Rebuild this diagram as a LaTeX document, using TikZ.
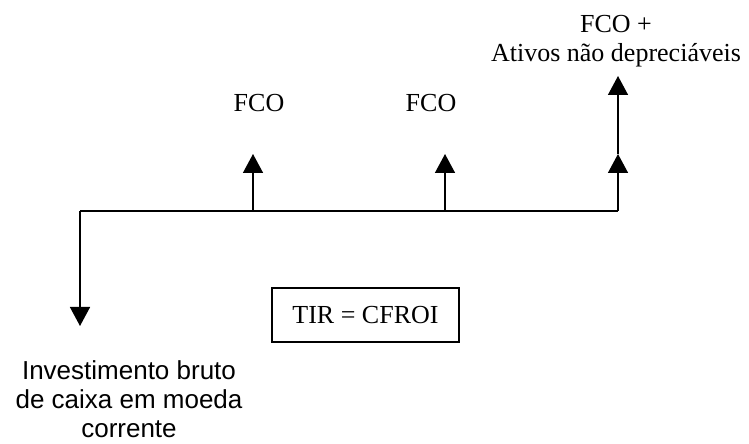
\documentclass[tikz,border=0pt]{standalone}
\usepackage{fontspec}
\setmainfont{Liberation Serif}
\newfontfamily\labelsans{Liberation Sans}
\usetikzlibrary{arrows.meta}
\begin{document}
\begin{tikzpicture}[x=1bp,y=-1bp,
  axis/.style={line width=1.5bp},
  flow/.style={line width=1.5bp,-{Triangle[length=19bp,width=20bp]}},
  serif/.style={font=\fontsize{26bp}{29.5bp}\selectfont,inner sep=0pt,align=center},
  sanslabel/.style={font=\labelsans\fontsize{26bp}{29bp}\selectfont,inner sep=0pt,align=center},
  result/.style={draw,line width=1.3bp,inner sep=0pt,minimum width=187bp,minimum height=54bp,
    font=\fontsize{26bp}{29.5bp}\selectfont}]
  \useasboundingbox (0,0) rectangle (749,444);

  % time line and the points where cash flows occur
  \coordinate (t0) at (80,211);
  \coordinate (t1) at (253,211);
  \coordinate (t2) at (445,211);
  \coordinate (t3) at (618,211);
  \coordinate (out0) at (80,326);
  \coordinate (in1) at (253,154);
  \coordinate (in2) at (445,154);
  \coordinate (in3) at (618,154);
  \coordinate (res3) at (618,76);

  \draw[axis] (t0) -- (t3);

  % initial outflow and yearly inflows
  \draw[flow] (t0) -- (out0);
  \draw[flow] (t1) -- (in1);
  \draw[flow] (t2) -- (in2);
  \draw[flow] (t3) -- (in3);
  \draw[flow] (in3) -- (res3);

  % labels
  \node[serif,anchor=base] (fco1) at (259,112) {FCO};
  \node[serif,anchor=base] (fco2) at (431,112) {FCO};
  \node[serif,anchor=north] (fco3) at (616,14.8) {FCO +\\Ativos não depreciáveis};
  \node[sanslabel,anchor=north] (inv) at (129,360) {Investimento bruto\\de caixa em moeda\\corrente};

  \node[result] (tir) at (365.5,315) {TIR = CFROI};
\end{tikzpicture}
\end{document}
